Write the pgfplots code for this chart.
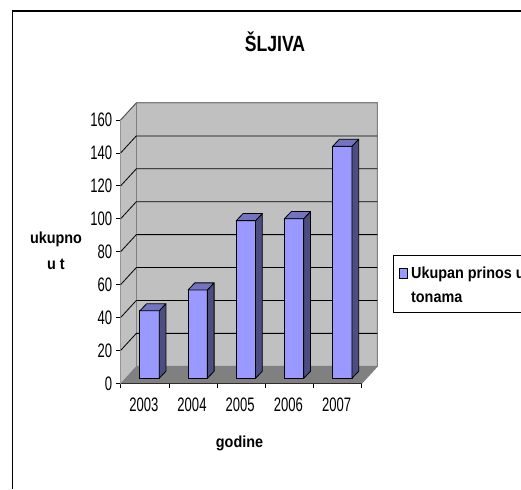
\documentclass[border=0pt]{standalone}
\usepackage{fontspec}
\setmainfont[FakeStretch=0.9]{Liberation Sans}
\newfontfamily\titlefont[FakeStretch=0.8]{Liberation Sans}
\newfontfamily\tickfont[FakeStretch=0.67]{Liberation Sans}
\usepackage{pgfplots}
\pgfplotsset{compat=1.18}
\definecolor{wallc}{HTML}{C0C0C0}
\definecolor{floorc}{HTML}{808080}
\definecolor{barc}{HTML}{9999FF}
\definecolor{bartop}{HTML}{7373BF}
\definecolor{barside}{HTML}{4D4D80}
\pgfplotsset{
  chart3d/.style={
    at={(120.7pt,105.7pt)}, anchor=origin,
    scale only axis, width=241pt, height=263.3pt,
    xmin=0, xmax=5, ymin=0, ymax=160,
    clip=false,
  },
}
\begin{document}
\begin{tikzpicture}[x=1pt,y=1pt]
\clip (0,0) rectangle (521,489);
\draw[black,line width=1.1pt] (12.5,0) -- (12.5,478) -- (521,478);
\node[anchor=base,font=\titlefont\bfseries\fontsize{22}{24}\selectfont] at (275,437) {ŠLJIVA};
\node[anchor=base,font=\bfseries\fontsize{16}{26}\selectfont] at (56,245) {ukupno};
\node[anchor=base,font=\bfseries\fontsize{16}{26}\selectfont] at (56,219) {u t};
\node[anchor=base,font=\bfseries\fontsize{16}{18}\selectfont] at (239.5,41) {godine};
% walls, floor, grid and ticks
\begin{axis}[chart3d,
    axis lines=left, axis line style={-,black,line width=0.9pt},
    ytick={0,20,...,160},
    xtick={0,1,...,5}, xticklabels={},
    extra x ticks={0.5,1.5,2.5,3.5,4.5},
    extra x tick labels={2003,2004,2005,2006,2007},
    extra x tick style={major tick length=0pt},
    tick style={black,line width=0.7pt},
    major tick length=5pt,
    tick align=outside,
    tick label style={font=\tickfont\fontsize{19.5}{22}\selectfont},
    /pgf/number format/assume math mode=true,
    xticklabel style={yshift=-11pt,xshift=-1pt},
    yticklabel style={xshift=0pt},
  ]
  \addplot[draw=gray,line width=1pt,fill=wallc] coordinates {(0,0) (0.324,10.33) (5.324,10.33) (5.324,170.33) (0.324,170.33) (0,160)} --cycle;
  \addplot[draw=none,fill=wallc] coordinates {(0,0) (0.324,10.33) (0.324,170.33) (0,160)} --cycle;
  \addplot[draw=none,fill=floorc] coordinates {(0,0) (0.324,10.33) (5.324,10.33) (5,0)} --cycle;
  \addplot[draw=gray,line width=1pt] coordinates {(5,0) (5.324,10.33)};
  \addplot[draw=gray,line width=1pt] coordinates {(0.324,10.33) (0.324,170.33) (5.324,170.33) (5.324,10.33)};
  \addplot[black,line width=0.8pt] coordinates {(0,20) (0.324,30.33) (5.324,30.33)};
  \addplot[black,line width=0.8pt] coordinates {(0,40) (0.324,50.33) (5.324,50.33)};
  \addplot[black,line width=0.8pt] coordinates {(0,60) (0.324,70.33) (5.324,70.33)};
  \addplot[black,line width=0.8pt] coordinates {(0,80) (0.324,90.33) (5.324,90.33)};
  \addplot[black,line width=0.8pt] coordinates {(0,100) (0.324,110.33) (5.324,110.33)};
  \addplot[black,line width=0.8pt] coordinates {(0,120) (0.324,130.33) (5.324,130.33)};
  \addplot[black,line width=0.8pt] coordinates {(0,140) (0.324,150.33) (5.324,150.33)};
  \addplot[draw=gray!60!black,line width=0.8pt] coordinates {(0,160) (0.324,170.33)};
\end{axis}
% bars, set a little inside the depth of the floor
\begin{axis}[chart3d,
    at={(125.9pt,110.7pt)},
    hide axis,
    ybar, bar width=0.40,
    legend style={at={(267.4pt,123.3pt)},anchor=north west,draw=black,line width=0.8pt,
      font=\bfseries\fontsize{16}{24}\selectfont,inner xsep=5.5pt,inner ysep=0pt,
      nodes={inner sep=0pt,text height=23pt,text depth=34pt}},
    legend cell align=left,
  ]
  \addplot[forget plot,draw=black,line width=0.9pt,fill=barc,bar shift=0pt] coordinates {(0.49,41) (1.49,53.7) (2.49,95.8) (3.49,97) (4.49,141)};
  \addlegendimage{legend image code/.code={
      \path[draw=none,fill=none] (0pt,0pt) rectangle (11.5pt,10pt);
      \draw[draw=black,fill=barc,line width=0.8pt] (0pt,5pt) rectangle (7.5pt,15pt);}}
  \addlegendentry{\parbox[t]{135pt}{Ukupan prinos u\\tonama}}
  \pgfplotsset{bar3d/.style={forget plot,sharp plot,draw=black,line width=0.8pt,line join=round}}
  \addplot[bar3d,fill=barside] coordinates {(0.69,0) (0.83,4.3) (0.83,45.3) (0.69,41)} --cycle;
  \addplot[bar3d,fill=bartop] coordinates {(0.29,41) (0.43,45.3) (0.83,45.3) (0.69,41)} --cycle;
  \addplot[bar3d,fill=barside] coordinates {(1.69,0) (1.83,4.3) (1.83,58) (1.69,53.7)} --cycle;
  \addplot[bar3d,fill=bartop] coordinates {(1.29,53.7) (1.43,58) (1.83,58) (1.69,53.7)} --cycle;
  \addplot[bar3d,fill=barside] coordinates {(2.69,0) (2.83,4.3) (2.83,100.1) (2.69,95.8)} --cycle;
  \addplot[bar3d,fill=bartop] coordinates {(2.29,95.8) (2.43,100.1) (2.83,100.1) (2.69,95.8)} --cycle;
  \addplot[bar3d,fill=barside] coordinates {(3.69,0) (3.83,4.3) (3.83,101.3) (3.69,97)} --cycle;
  \addplot[bar3d,fill=bartop] coordinates {(3.29,97) (3.43,101.3) (3.83,101.3) (3.69,97)} --cycle;
  \addplot[bar3d,fill=barside] coordinates {(4.69,0) (4.83,4.3) (4.83,145.3) (4.69,141)} --cycle;
  \addplot[bar3d,fill=bartop] coordinates {(4.29,141) (4.43,145.3) (4.83,145.3) (4.69,141)} --cycle;
\end{axis}
\end{tikzpicture}
\end{document}
